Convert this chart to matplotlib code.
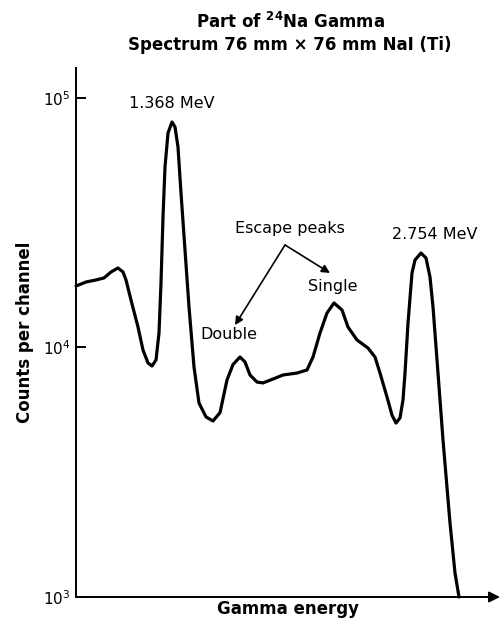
import numpy as np
from matplotlib import pyplot as plt

# channel position (arbitrary units) and counts per channel
channel = [0, 10, 20, 28, 35, 42, 47, 50, 55, 62, 67, 72, 76, 80, 83, 85, 87, 89,
           92, 96, 99, 102, 105, 109, 113, 118, 123, 130, 137, 144, 151, 157, 164,
           169, 174, 181, 187, 197, 207, 221, 231, 237, 244, 251, 258, 266, 272,
           281, 292, 299, 304, 311, 316, 320, 324, 327, 329, 331, 332, 336, 339,
           345, 350, 354, 357, 362, 367, 374, 379, 383]
counts = [17640, 18300, 18650, 19000, 20070, 20830, 20070, 18650, 15500, 12080,
          9770, 8670, 8430, 8910, 11430, 18140, 33340, 52900, 72380, 80130, 76520,
          63640, 41610, 24590, 14540, 8350, 5990, 5270, 5075, 5480, 7410, 8550,
          9160, 8750, 7760, 7270, 7210, 7475, 7760, 7900, 8125, 9160, 11430, 13750,
          15080, 14140, 12080, 10720, 9950, 9160, 7900, 6330, 5360, 4980, 5220,
          6160, 7900, 10720, 12540, 19890, 22420, 23920, 22840, 19170, 14540, 7900,
          4260, 1980, 1248, 1000]

yticks = [1e3, 1e4, 1e5]

plt.rcParams['font.family'] = 'DejaVu Sans'
plt.rcParams['mathtext.fontset'] = 'dejavusans'

fig = plt.figure(figsize=(5.01, 6.27), dpi=100)
ax = fig.add_axes([76/501, 1 - 597/627, 424/501, (597 - 68)/627])

ax.plot(channel, counts, color='black', lw=2.3, solid_joinstyle='round',
        solid_capstyle='round', clip_on=False)

ax.set_yscale('log')
ax.set_ylim(1e3, 10**(3 + 529/249.5))
ax.set_xlim(0, 424)
ax.set_yticks(yticks)
ax.minorticks_off()
ax.set_xticks([])
ax.tick_params(axis='y', direction='in', length=7, width=1.4, labelsize=11, pad=4)

for s in ['top', 'right', 'bottom']:
    ax.spines[s].set_visible(False)
ax.spines['left'].set_linewidth(1.4)

ax.annotate('', xy=(1, 0), xytext=(0, 0), xycoords='axes fraction',
            arrowprops=dict(arrowstyle='-|>', lw=1.4, color='black',
                            mutation_scale=16, shrinkA=0, shrinkB=0))

ax.set_ylabel('Counts per channel', fontsize=12, fontweight='bold', labelpad=6)
ax.set_xlabel('Gamma energy', fontsize=12, fontweight='bold', labelpad=2)

fig.text(290/501, 1 - 22/627, r'Part of $\mathbf{^{24}}$Na Gamma', ha='center',
         va='center', fontsize=12, fontweight='bold')
fig.text(290/501, 1 - 45/627, 'Spectrum 76 mm \u00d7 76 mm NaI (Ti)', ha='center',
         va='center', fontsize=12, fontweight='bold')

ax.text(96, 94700, '1.368 MeV', ha='center', va='center', fontsize=11.5)
ax.text(359, 28500, '2.754 MeV', ha='center', va='center', fontsize=11.5)
ax.text(214, 30100, 'Escape peaks', ha='center', va='center', fontsize=11.5)
ax.text(257, 17480, 'Single', ha='center', va='center', fontsize=11.5)
ax.text(153, 11320, 'Double', ha='center', va='center', fontsize=11.5)

ax.annotate('', xy=(159, 12300), xytext=(209, 25760),
            arrowprops=dict(arrowstyle='-|>', lw=1.2, color='black',
                            mutation_scale=12, shrinkA=0, shrinkB=0))
ax.annotate('', xy=(254, 19890), xytext=(209, 25760),
            arrowprops=dict(arrowstyle='-|>', lw=1.2, color='black',
                            mutation_scale=12, shrinkA=0, shrinkB=0))

fig.savefig('out.png', dpi=100)
